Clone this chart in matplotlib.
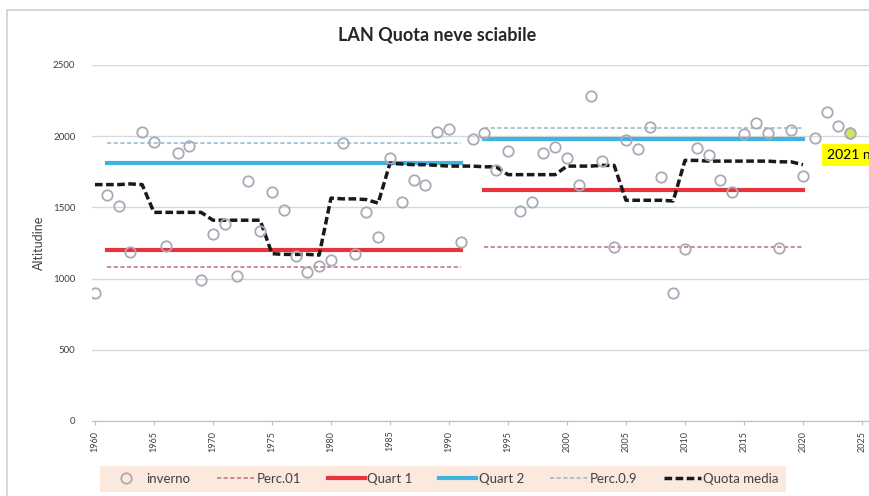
import numpy as np
import matplotlib
matplotlib.use("Agg")
import matplotlib.pyplot as plt
from matplotlib.patches import Rectangle

plt.rcParams['font.family'] = ['Lato', 'DejaVu Sans']

# winter snow line, one point per year
years = list(range(1960, 2025))
inverno = [900, 1590, 1510, 1190, 2030, 1960, 1230, 1885, 1930, 990,
           1315, 1380, 1020, 1685, 1335, 1610, 1485, 1160, 1045, 1085,
           1130, 1955, 1170, 1470, 1295, 1850, 1535, 1695, 1660, 2030,
           2050, 1260, 1980, 2025, 1765, 1895, 1475, 1535, 1885, 1925,
           1850, 1655, 2280, 1825, 1220, 1975, 1910, 2065, 1710, 900,
           1205, 1920, 1870, 1690, 1610, 2015, 2095, 2020, 1215, 2045,
           1720, 1990, 2170, 2075, 2025]

# moving mean (Quota media) 1960-2020
media_years = list(range(1960, 2021))
quota_media = [1660, 1660, 1660, 1665, 1660,
               1465, 1465, 1465, 1465, 1465,
               1410, 1410, 1410, 1410, 1410,
               1175, 1170, 1170, 1170, 1165,
               1565, 1560, 1560, 1555, 1530,
               1810, 1805, 1800, 1800, 1795,
               1790, 1790, 1790, 1785, 1785,
               1730, 1730, 1730, 1730, 1730,
               1790, 1790, 1790, 1795, 1795,
               1550, 1550, 1550, 1550, 1545,
               1830, 1830, 1825, 1825, 1825,
               1825, 1825, 1825, 1820, 1820,
               1800]

# two reference periods
periods = [(1961, 1991), (1993, 2020)]
perc01 = [1080, 1220]
quart1 = [1200, 1620]
quart2 = [1810, 1980]
perc09 = [1955, 2055]

fig = plt.figure(figsize=(8.7, 4.96), dpi=100)
ax = fig.add_axes([92 / 870, 75 / 496, 1 - 92 / 870, (421 - 65) / 496])

# chart border
fig.patches.append(Rectangle((7 / 870, -0.1), 1.2, 1 - 10 / 496 + 0.1,
                             transform=fig.transFigure, fill=False,
                             edgecolor='#D0D0D0', lw=1.2))

ax.set_xlim(1959.75, 2025.68)
ax.set_ylim(0, 2500)

# gridlines
ax.set_yticks(range(0, 2501, 500))
ax.yaxis.grid(True, color='#D9D9D9', lw=1)
ax.set_axisbelow(True)
for s in ['top', 'right', 'left']:
    ax.spines[s].set_visible(False)
ax.spines['bottom'].set_color('#BFBFBF')

ax.plot(years, inverno, 'o', ms=7.5, mfc='none', mec='#A9A9B8', mew=1.3,
        label='inverno', zorder=5)
# highlighted last point
ax.plot(years[-1], inverno[-1], 'o', ms=7.5, mfc='#D7E35A', mec='#A9A9B8',
        mew=1.3, zorder=6)

def seg(vals, **kw):
    lab = kw.pop('label')
    for i, (a, b) in enumerate(periods):
        ax.plot([a, b], [vals[i], vals[i]], label=lab if i == 0 else None, **kw)

seg(perc01, color='#C07A85', lw=1.2, ls=(0, (2.5, 1.5)), label='Perc.01')
seg(quart1, color='#E8333D', lw=3, label='Quart 1')
seg(quart2, color='#3DB5DE', lw=3, label='Quart 2')
seg(perc09, color='#9BBBD0', lw=1.2, ls=(0, (2.5, 1.5)), label='Perc.0.9')
ax.plot(media_years, quota_media, color='#1A1A1A', lw=2.5, ls=(0, (2.2, 1.0)),
        label='Quota media', zorder=4)

ax.text(2022.05, 1868, '2021 n', va='center', ha='left', fontsize=10,
        bbox=dict(boxstyle='square,pad=0.35', fc='#FFFF00', ec='none'),
        clip_on=False, zorder=7)

ax.set_xticks(range(1960, 2026, 5))
ax.set_xticklabels([str(y) for y in range(1960, 2026, 5)], rotation=90,
                   fontsize=6.5, color='#404040')
ax.tick_params(axis='x', length=3, color='#BFBFBF', pad=4)
ax.tick_params(axis='y', length=0, labelsize=7, labelcolor='#404040', pad=12)
ax.set_ylabel('Altitudine', fontsize=9, color='#404040', labelpad=6)

fig.text(0.503, 1 - 35 / 496, 'LAN Quota neve sciabile', ha='center',
         va='center', fontsize=13, fontweight='bold', color='#262626')

leg = fig.legend(loc='center', bbox_to_anchor=(443 / 870, 1 - 479 / 496),
                 ncol=6, fontsize=9.5, frameon=True, fancybox=False,
                 handlelength=2.8, handletextpad=0.2, columnspacing=2.0,
                 borderpad=0.55, borderaxespad=0)
leg.get_frame().set_facecolor('#FCE4D6')
leg.get_frame().set_edgecolor('none')
for t in leg.get_texts():
    t.set_color('#404040')

fig.savefig('out.png', dpi=100)
